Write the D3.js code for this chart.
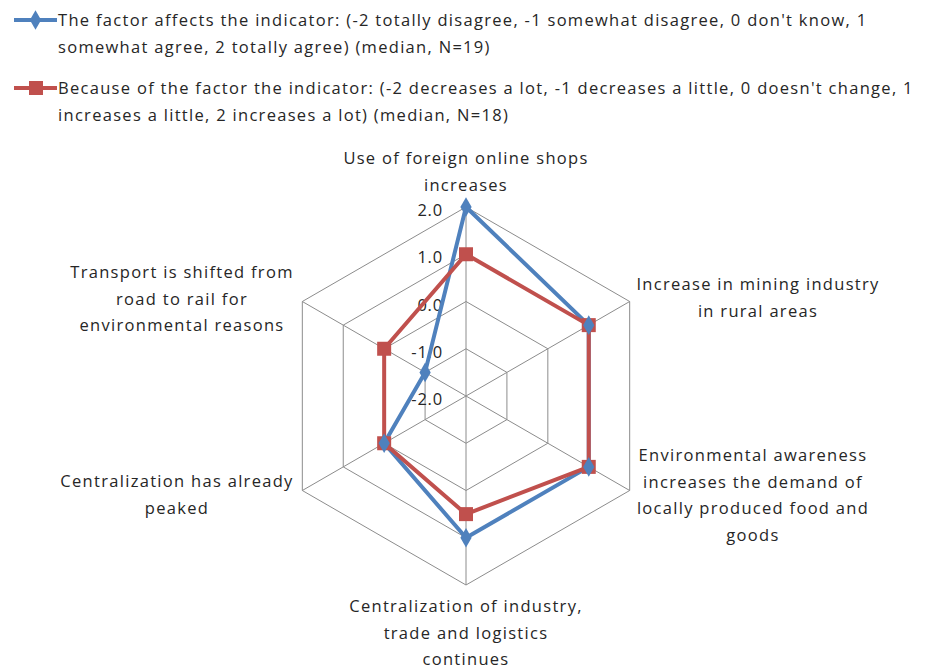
<!DOCTYPE html>
<html>
<head>
<meta charset="utf-8">
<script src="https://cdn.jsdelivr.net/npm/d3@7"></script>
<style>
  body { margin: 0; background: #fff; }
  text { font-family: "Open Sans", Lato, sans-serif; fill: #262626; letter-spacing: 1.3px; }
</style>
</head>
<body>
<div id="chart"></div>
<script>
// axes, clockwise from top
var axes = [
    ["Use of foreign online shops", "increases"],
    ["Increase in mining industry", "in rural areas"],
    ["Environmental awareness", "increases the demand of", "locally produced food and", "goods"],
    ["Centralization of industry,", "trade and logistics", "continues"],
    ["Centralization has already", "peaked"],
    ["Transport is shifted from", "road to rail for", "environmental reasons"]
];
var affects = [2, 1, 1, 1, 0, -1];     // blue, N=19
var because = [1, 1, 1, 0.5, 0, 0];    // red, N=18
var ticks = [-2, -1, 0, 1, 2];
var legend1 = ["The factor affects the indicator: (-2 totally disagree, -1 somewhat disagree, 0 don't know, 1",
               "somewhat agree, 2 totally agree) (median, N=19)"];
var legend2 = ["Because of the factor the indicator: (-2 decreases a lot, -1 decreases a little, 0 doesn't change, 1",
               "increases a little, 2 increases a lot) (median, N=18)"];

var width = 925, height = 670;
var cx = 466, cy = 396, R = 189;
var fs = '16.5px';

var svg = d3.select('#chart').append('svg')
    .attr('width', width)
    .attr('height', height);

var r = d3.scaleLinear().domain([-2, 2]).range([0, R]);
var n = axes.length;
function ang(i) { return -Math.PI / 2 + i * 2 * Math.PI / n; }
function pt(i, v) { return [cx + r(v) * Math.cos(ang(i)), cy + r(v) * Math.sin(ang(i))]; }

var g = svg.append('g');

// grid rings
ticks.forEach(function(t) {
    if (t == -2) return;
    var p = d3.range(n).map(function(i) { return pt(i, t); });
    g.append('polygon')
        .attr('points', p.map(function(d) { return d.join(','); }).join(' '))
        .attr('fill', 'none')
        .attr('stroke', '#8c8c8c')
        .attr('stroke-width', 1);
});
// spokes
d3.range(n).forEach(function(i) {
    var p = pt(i, 2);
    g.append('line')
        .attr('x1', cx).attr('y1', cy)
        .attr('x2', p[0]).attr('y2', p[1])
        .attr('stroke', '#8c8c8c');
});

// tick labels
g.selectAll('.tick')
    .data(ticks)
    .enter().append('text')
        .attr('x', cx - 23)
        .attr('y', function(d) { return cy - r(d) + 9; })
        .attr('text-anchor', 'end')
        .style('font-size', fs)
        .style('letter-spacing', '0.8px')
        .text(function(d) { return d.toFixed(1); });

// series
var line = d3.line();
function series(vals, color) {
    var p = vals.map(function(v, i) { return pt(i, v); });
    g.append('path')
        .attr('d', line(p) + 'Z')
        .attr('fill', 'none')
        .attr('stroke', color)
        .attr('stroke-width', 4)
        .attr('stroke-linejoin', 'round');
    return p;
}
var pb = series(affects, '#4f81bd');
var pr = series(because, '#c0504d');

g.selectAll('.sq')
    .data(pr)
    .enter().append('rect')
        .attr('x', function(d) { return d[0] - 7; })
        .attr('y', function(d) { return d[1] - 7; })
        .attr('width', 14).attr('height', 14)
        .attr('fill', '#c0504d');

var diamond = d3.symbol().type(d3.symbolDiamond).size(110);
g.selectAll('.dm')
    .data(pb)
    .enter().append('path')
        .attr('d', diamond)
        .attr('transform', function(d) { return 'translate(' + d[0] + ',' + d[1] + ')'; })
        .attr('fill', '#4f81bd');

// axis labels
var labelPos = [
    [466, 164], [758, 290], [753, 461], [466, 612], [177, 487], [182, 278]
];
axes.forEach(function(lines, i) {
    var t = svg.append('text')
        .attr('text-anchor', 'middle')
        .style('font-size', fs);
    lines.forEach(function(s, k) {
        t.append('tspan')
            .attr('x', labelPos[i][0])
            .attr('y', labelPos[i][1] + k * 26.5)
            .text(s);
    });
});

// legend
function legendItem(y, lines, color, shape) {
    svg.append('line')
        .attr('x1', 14).attr('x2', 57)
        .attr('y1', y).attr('y2', y)
        .attr('stroke', color).attr('stroke-width', 4);
    if (shape == 'diamond') {
        svg.append('path')
            .attr('d', diamond)
            .attr('transform', 'translate(35.5,' + y + ')')
            .attr('fill', color);
    } else {
        svg.append('rect')
            .attr('x', 29).attr('y', y - 7)
            .attr('width', 14).attr('height', 14)
            .attr('fill', color);
    }
    var t = svg.append('text').style('font-size', fs);
    lines.forEach(function(s, k) {
        t.append('tspan')
            .attr('x', 58)
            .attr('y', y + 6 + k * 27)
            .text(s);
    });
}
legendItem(20, legend1, '#4f81bd', 'diamond');
legendItem(88, legend2, '#c0504d', 'square');
</script>
</body>
</html>
